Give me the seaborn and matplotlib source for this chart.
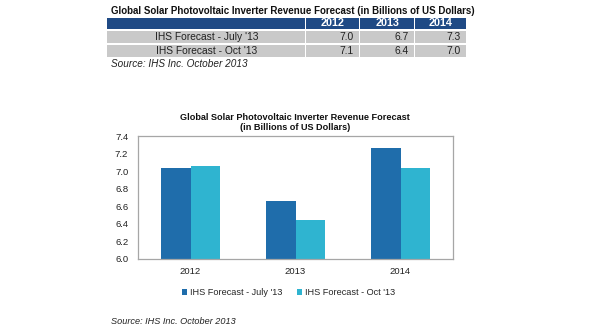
import matplotlib
matplotlib.use("Agg")
import matplotlib.pyplot as plt
from matplotlib.patches import Rectangle
import pandas as pd
import seaborn as sns

# Revenue forecast data (billions of US dollars)
years = ["2012", "2013", "2014"]
series_names = ["IHS Forecast - July '13", "IHS Forecast - Oct '13"]
july_values = [7.04, 6.66, 7.26]
oct_values = [7.06, 6.44, 7.04]
y_ticks = [6.0, 6.2, 6.4, 6.6, 6.8, 7.0, 7.2, 7.4]

table_title = "Global Solar Photovoltaic Inverter Revenue Forecast (in Billions of US Dollars)"
chart_title = "Global Solar Photovoltaic Inverter Revenue Forecast\n(in Billions of US Dollars)"
source_text = "Source: IHS Inc. October 2013"

colors = ["#1F6DAB", "#2FB4D0"]
navy = "#1F4A85"
row_gray = "#C9C9C9"

sns.set_theme(style="white")
plt.rcParams["font.family"] = ["Liberation Sans", "DejaVu Sans"]

W, H = 595, 335
fig = plt.figure(figsize=(W / 100, H / 100), dpi=100)
fig.patch.set_facecolor("white")

# ---- summary table at the top (pixel coordinate overlay) ----
tax = fig.add_axes([0, 0, 1, 1])
tax.set_xlim(0, W)
tax.set_ylim(H, 0)
tax.axis("off")

tax.text(111, 11, table_title, fontsize=7.0, fontweight="bold", va="center", ha="left", color="#111111")

col_edges = [107, 306, 360, 415, 467]
row_edges = [18, 31, 45, 59]
rows = [[series_names[0]] + [f"{v:.1f}" for v in july_values],
        [series_names[1]] + [f"{v:.1f}" for v in oct_values]]

# header
for c in range(4):
    x0, x1 = col_edges[c], col_edges[c + 1]
    tax.add_patch(Rectangle((x0, row_edges[0]), x1 - x0 - 1.5, row_edges[1] - row_edges[0] - 2,
                            facecolor=navy, edgecolor="none"))
    if c > 0:
        tax.text((x0 + x1) / 2, (row_edges[0] + row_edges[1]) / 2 - 1, years[c - 1],
                 fontsize=7.8, fontweight="bold", color="white", ha="center", va="center")
# body
for r in range(2):
    y0, y1 = row_edges[r + 1], row_edges[r + 2]
    for c in range(4):
        x0, x1 = col_edges[c], col_edges[c + 1]
        tax.add_patch(Rectangle((x0, y0), x1 - x0 - 1.5, y1 - y0 - 2,
                                facecolor=row_gray, edgecolor="none"))
        cy = (y0 + y1) / 2 - 1
        if c == 0:
            tax.text((x0 + x1) / 2, cy, rows[r][0], fontsize=7.4, ha="center", va="center", color="#222222")
        else:
            tax.text(x1 - 6, cy, rows[r][c], fontsize=7.4, ha="right", va="center", color="#222222")

tax.text(111, 64, source_text, fontsize=7.2, style="italic", ha="left", va="center", color="#222222")
tax.text(111, 321, source_text, fontsize=6.6, style="italic", ha="left", va="center", color="#222222")
tax.text(295, 122.5, chart_title, fontsize=6.6, fontweight="bold", ha="center", va="center",
         color="#111111", linespacing=1.05)

# ---- bar chart ----
df = pd.DataFrame({
    "year": years * 2,
    "value": july_values + oct_values,
    "series": [series_names[0]] * 3 + [series_names[1]] * 3,
})

ax = fig.add_axes([138 / W, (H - 259) / H, 315 / W, 123 / H])
sns.barplot(data=df, x="year", y="value", hue="series", palette=colors, width=0.57,
            saturation=1, ax=ax, edgecolor="none", linewidth=0)
ax.set_ylim(6.0, 7.4)
ax.set_xlim(-0.5, 2.5)
ax.set_yticks(y_ticks)
ax.set_yticklabels([f"{t:.1f}" for t in y_ticks])
ax.set_xlabel("")
ax.set_ylabel("")
ax.tick_params(axis="both", length=0, labelsize=6.8, colors="#222222")
ax.tick_params(axis="x", pad=6)
ax.tick_params(axis="y", pad=7)
for s in ax.spines.values():
    s.set_visible(True)
    s.set_color("#A6A6A6")
    s.set_linewidth(0.9)

handles, labels = ax.get_legend_handles_labels()
ax.legend(handles, labels, loc="upper center", bbox_to_anchor=(0.478, -0.17), ncol=2,
          frameon=False, fontsize=6.6, handlelength=0.5, handleheight=0.5,
          handletextpad=0.3, columnspacing=1.7)

fig.savefig("out.png", dpi=100, facecolor="white")
